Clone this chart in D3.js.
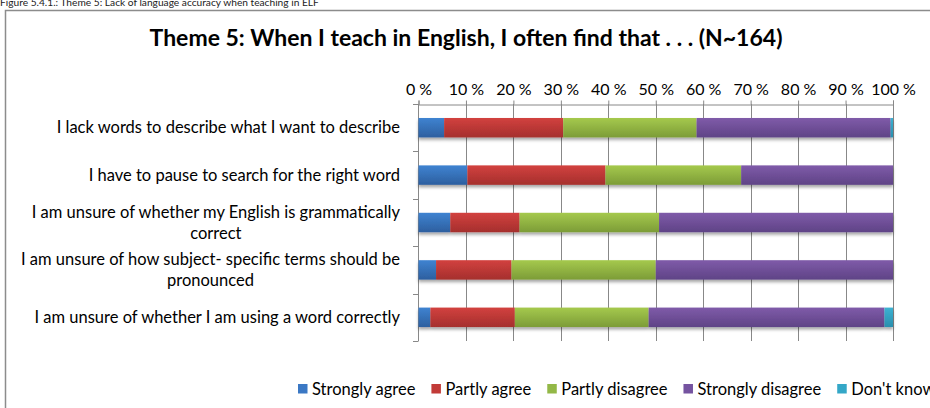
<!DOCTYPE html>
<html>
<head>
<meta charset="utf-8">
<script src="https://cdn.jsdelivr.net/npm/d3@7"></script>
<style>
  html, body { margin: 0; padding: 0; background: #fff; }
  svg { display: block; }
  text { font-family: Lato, "Noto Sans", sans-serif; fill: #000; }
</style>
</head>
<body>
<svg id="chart" width="930" height="408"></svg>
<script>
// ---------------- data ----------------
const caption = "Figure 5.4.1.: Theme 5: Lack of language accuracy when teaching in ELF";
const title = "Theme 5: When I teach in English, I often find that . . . (N~164)";
const categories = [
  "I lack words to describe what I want to describe",
  "I have to pause to search for the right word",
  "I am unsure of whether my English is grammatically\ncorrect",
  "I am unsure of how subject- specific terms should be\npronounced",
  "I am unsure of whether I am using a word correctly"
];
const seriesNames = ["Strongly agree", "Partly agree", "Partly disagree", "Strongly disagree", "Don't know"];
const stronglyAgree    = [5.4, 10.3, 6.7, 3.7, 2.5];
const partlyAgree      = [25.1, 29.1, 14.6, 15.9, 17.8];
const partlyDisagree   = [28.1, 28.6, 29.4, 30.4, 28.2];
const stronglyDisagree = [40.9, 32.0, 49.3, 50.0, 49.7];
const dontKnow         = [0.5, 0, 0, 0, 1.8];
const tickValues = [0, 10, 20, 30, 40, 50, 60, 70, 80, 90, 100];

// ---------------- styles ----------------
const colors = [
  ["#3f83d1", "#2d5f9f"],
  ["#d2413f", "#a52f2d"],
  ["#a5c94d", "#7c9c37"],
  ["#7f5ba9", "#5f4386"],
  ["#3cb2d2", "#2a8fae"]
];
const legendColors = ["#3b78c4", "#c23b38", "#93b847", "#7553a0", "#34a7c7"];

const svg = d3.select("#chart");
const defs = svg.append("defs");
colors.forEach((c, i) => {
  const g = defs.append("linearGradient").attr("id", "grad" + i)
    .attr("x1", 0).attr("y1", 0).attr("x2", 0).attr("y2", 1);
  g.append("stop").attr("offset", "0%").attr("stop-color", c[0]);
  g.append("stop").attr("offset", "100%").attr("stop-color", c[1]);
});
const f = defs.append("filter").attr("id", "shadow")
  .attr("x", "-5%").attr("y", "-20%").attr("width", "110%").attr("height", "160%");
f.append("feDropShadow").attr("dx", 0).attr("dy", 2.5).attr("stdDeviation", 1.6)
  .attr("flood-color", "#000").attr("flood-opacity", 0.35);

// caption (partially cut at top, as in the source)
svg.append("text").attr("x", 0).attr("y", 5.5)
  .style("font-size", "10.2px").style("fill", "#222").text(caption);

// chart border
svg.append("rect").attr("x", 5.5).attr("y", 10.5).attr("width", 940).attr("height", 420)
  .attr("fill", "none").attr("stroke", "#8c8c8c").attr("stroke-width", 1.5);

// title
svg.append("text").attr("x", 466).attr("y", 46).attr("text-anchor", "middle")
  .style("font-size", "23px").style("font-weight", "bold").text(title);

// ---------------- scales ----------------
const x = d3.scaleLinear().domain([0, 100]).range([418.5, 893]);
const y = d3.scaleBand().domain(d3.range(categories.length)).range([104, 341]).paddingInner(0.59).paddingOuter(0.295);

const table = categories.map((c, i) => ({
  cat: i,
  "Strongly agree": stronglyAgree[i],
  "Partly agree": partlyAgree[i],
  "Partly disagree": partlyDisagree[i],
  "Strongly disagree": stronglyDisagree[i],
  "Don't know": dontKnow[i]
}));
const stacked = d3.stack().keys(seriesNames)(table);

// gridlines
const gridColor = "#888";
svg.append("g").selectAll("line").data(tickValues.slice(1)).join("line")
  .attr("x1", d => Math.round(x(d)) + 0.5).attr("x2", d => Math.round(x(d)) + 0.5)
  .attr("y1", 104).attr("y2", 341)
  .attr("stroke", gridColor).attr("stroke-width", 1);

// top axis
const xAxis = d3.axisTop(x).tickValues(tickValues).tickSize(4).tickPadding(4)
  .tickFormat(d => d + " %");
const gx = svg.append("g").attr("transform", "translate(0,104.5)").call(xAxis);
gx.select(".domain").attr("stroke", gridColor);
gx.selectAll(".tick line").attr("stroke", gridColor);
gx.selectAll(".tick text").style("font-size", "16px").style("font-family", "Lato, sans-serif")
  .attr("fill", "#000").attr("dy", "-2px");

// left axis line + category ticks
const bandEdges = d3.range(categories.length + 1).map(i => 104 + i * (341 - 104) / categories.length);
svg.append("line").attr("x1", 418.5).attr("x2", 418.5).attr("y1", 104).attr("y2", 341)
  .attr("stroke", gridColor);
svg.append("g").selectAll("line").data(bandEdges).join("line")
  .attr("x1", 413).attr("x2", 418.5)
  .attr("y1", d => Math.round(d) + 0.5).attr("y2", d => Math.round(d) + 0.5)
  .attr("stroke", gridColor);

// bars
const gBars = svg.append("g").attr("filter", "url(#shadow)");
stacked.forEach((s, si) => {
  gBars.append("g").selectAll("rect").data(s.filter(d => d[1] - d[0] > 0)).join("rect")
    .attr("x", d => x(d[0]))
    .attr("width", d => x(d[1]) - x(d[0]))
    .attr("y", d => y(d.data.cat))
    .attr("height", y.bandwidth())
    .attr("fill", "url(#grad" + si + ")");
});

// category labels
const lineH = 21.5;
const labels = svg.append("g");
categories.forEach((c, i) => {
  const lines = c.split("\n");
  const cy = y(i) + y.bandwidth() / 2;
  const t = labels.append("text").style("font-size", "16.5px").attr("text-anchor", "middle");
  const tspans = lines.map((ln, k) => t.append("tspan").text(ln)
    .attr("y", cy + (k - (lines.length - 1) / 2) * lineH).attr("dy", "0.35em"));
  // block right aligned at x=400, each line centered within block
  const w = d3.max(tspans, ts => ts.node().getComputedTextLength());
  tspans.forEach(ts => ts.attr("x", 400 - w / 2));
});

// legend
const legend = svg.append("g");
let lx = 298;
const ly = 389;
seriesNames.forEach((n, i) => {
  legend.append("rect").attr("x", lx).attr("y", ly - 5).attr("width", 9.5).attr("height", 9.5)
    .attr("fill", legendColors[i]);
  const t = legend.append("text").attr("x", lx + 14).attr("y", ly).attr("dy", "0.35em")
    .style("font-size", "16.5px").text(n);
  lx += 14 + t.node().getComputedTextLength() + 16;
});
</script>
</body>
</html>
